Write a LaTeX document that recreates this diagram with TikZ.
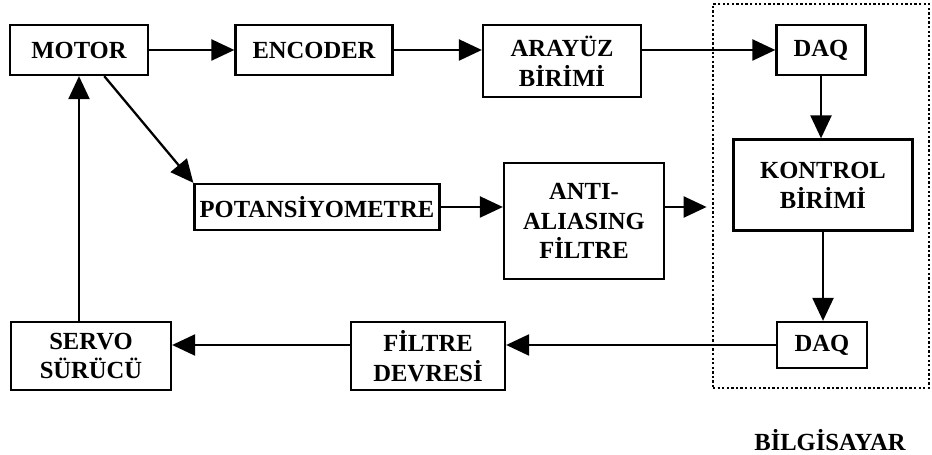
\documentclass[tikz,border=0pt]{standalone}
\usepackage{fontspec}
\setmainfont{Liberation Serif}
\usetikzlibrary{positioning,arrows.meta}

\begin{document}
\begin{tikzpicture}[
        x=0.02cm, y=-0.02cm,
        blok/.style={draw, rectangle, line width=1.3pt, align=center, inner sep=2pt,
            font=\fontsize{14}{17}\selectfont\bfseries},
        ok/.style={-{Triangle[length=0.46cm, width=0.42cm]}, line width=1.3pt}
    ]
        \useasboundingbox (0,0) rectangle (932,455);

        \node (bilg) [draw, line width=1.3pt, dash pattern=on 1.3pt off 1.3pt,
            minimum width=4.32cm, minimum height=7.68cm] at (821,196) {};
        \node (bilgyazi) [below=0.72cm of bilg, xshift=0.18cm, inner sep=2pt,
            font=\fontsize{14}{17}\selectfont\bfseries] {BİLGİSAYAR};

        \node (motor) [blok, minimum width=2.76cm, minimum height=1cm] at (79,50) {MOTOR};
        \node (enc) [blok, minimum width=3.14cm, minimum height=1cm] at (314,50) {ENCODER};
        \node (ara) [blok, minimum width=3.16cm, minimum height=1.44cm] at (562,61) {ARAYÜZ\\BİRİMİ};
        \node (daqa) [blok, minimum width=1.78cm, minimum height=1cm] at (821,50) {DAQ};
        \node (kontrol) [blok, minimum width=3.58cm, minimum height=1.82cm] at (823,185) {KONTROL\\BİRİMİ};
        \node (pot) [blok, minimum width=4.9cm, minimum height=0.92cm] at (317,207) {POTANSİYOMETRE};
        \node (anti) [blok, minimum width=3.2cm, minimum height=2.32cm] at (584,221) {ANTI-\\ALIASING\\FİLTRE};
        \node (daqb) [blok, minimum width=1.8cm, minimum height=0.92cm] at (822,345) {DAQ};
        \node (filt) [blok, minimum width=3.08cm, minimum height=1.36cm] at (428,356) {FİLTRE\\DEVRESİ};
        \node (servo) [blok, minimum width=3.2cm, minimum height=1.36cm] at (91,356) {SERVO\\SÜRÜCÜ};

        \draw[ok] (motor) -- (enc);
        \draw[ok] (enc.east) -- (enc.east -| ara.west);
        \draw[ok] (ara.east |- daqa) -- (daqa.west);
        \draw[ok] (daqa.south) -- (daqa.south |- kontrol.north);
        \draw[ok] (kontrol.south) -- (kontrol.south |- daqb.north);
        \draw[ok] (daqb.west) -- (daqb.west -| filt.east);
        \draw[ok] (filt.west |- daqb) -- (servo.east |- daqb);
        \draw[ok] (motor.south |- servo.north) -- (motor.south);
        \draw[ok] (motor.-46) -- (pot.north west);
        \draw[ok] (pot.east) -- (pot.east -| anti.west);
        \draw[ok, shorten >=3pt] (anti.east |- pot) -- (pot -| bilg.west);
    \end{tikzpicture}
\end{document}
